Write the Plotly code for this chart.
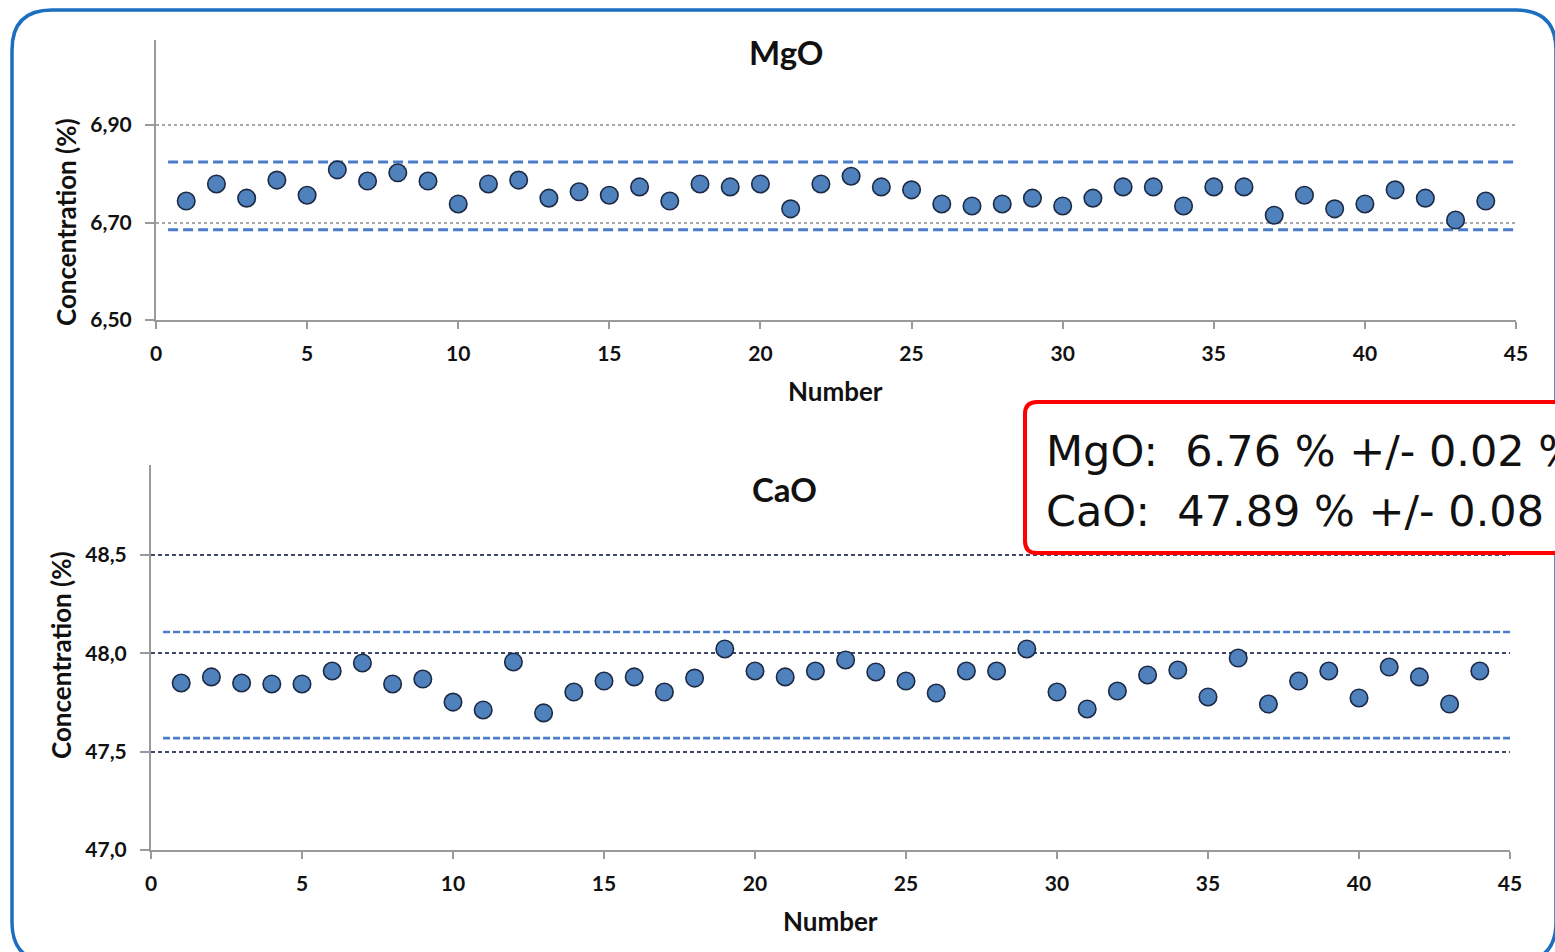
import plotly.graph_objects as go

W, H = 1555, 952

# ---------------- data ----------------
numbers = list(range(1, 45))
mgo_values = [6.744, 6.779, 6.750, 6.787, 6.756, 6.808, 6.785, 6.802, 6.785, 6.738,
              6.779, 6.787, 6.750, 6.763, 6.756, 6.773, 6.744, 6.779, 6.773, 6.779,
              6.728, 6.779, 6.795, 6.773, 6.767, 6.738, 6.734, 6.738, 6.750, 6.734,
              6.750, 6.773, 6.773, 6.734, 6.773, 6.773, 6.715, 6.756, 6.728, 6.738,
              6.767, 6.750, 6.705, 6.744]
cao_values = [47.849, 47.880, 47.849, 47.844, 47.844, 47.910, 47.951, 47.844, 47.869, 47.752,
              47.712, 47.956, 47.697, 47.803, 47.859, 47.880, 47.803, 47.874, 48.022, 47.910,
              47.880, 47.910, 47.966, 47.905, 47.859, 47.798, 47.910, 47.910, 48.022, 47.803,
              47.717, 47.808, 47.890, 47.915, 47.778, 47.976, 47.742, 47.859, 47.910, 47.773,
              47.930, 47.880, 47.742, 47.910]
limit_x = [0.4, 45]
mgo_upper = [6.824, 6.824]
mgo_lower = [6.685, 6.685]
cao_upper = [48.108, 48.108]
cao_lower = [47.569, 47.569]
mgo_ticks = [6.50, 6.70, 6.90]
cao_ticks = [47.0, 47.5, 48.0, 48.5]
summary_lines = ["MgO:  6.76 % +/- 0.02 %", "CaO:  47.89 % +/- 0.08 %"]


def px(x):
    return x / W


def py(y):
    return 1 - y / H


fig = go.Figure()

marker = dict(size=17.5, color="#4f81bd", line=dict(color="#1c2a45", width=1.6))

# MgO
fig.add_trace(go.Scatter(x=limit_x, y=mgo_upper, mode="lines", xaxis="x", yaxis="y",
                         line=dict(color="#4a7cc9", width=3, dash="10px,5px"), hoverinfo="skip"))
fig.add_trace(go.Scatter(x=limit_x, y=mgo_lower, mode="lines", xaxis="x", yaxis="y",
                         line=dict(color="#4a7cc9", width=3, dash="10px,5px"), hoverinfo="skip"))
fig.add_trace(go.Scatter(x=numbers, y=mgo_values, mode="markers", xaxis="x", yaxis="y", marker=marker))

# CaO
fig.add_trace(go.Scatter(x=limit_x, y=cao_upper, mode="lines", xaxis="x2", yaxis="y2",
                         line=dict(color="#4a7cc9", width=2.6, dash="7px,3px"), hoverinfo="skip"))
fig.add_trace(go.Scatter(x=limit_x, y=cao_lower, mode="lines", xaxis="x2", yaxis="y2",
                         line=dict(color="#4a7cc9", width=2.6, dash="7px,3px"), hoverinfo="skip"))
fig.add_trace(go.Scatter(x=numbers, y=cao_values, mode="markers", xaxis="x2", yaxis="y2", marker=marker))

tickfont = dict(family="Lato", size=21, color="#111111", weight="bold")
titlefont = dict(family="Lato", size=26, color="#111111")

common_x = dict(range=[0, 45], tick0=0, dtick=5, showgrid=False, zeroline=False,
                showline=True, linecolor="#9a9a9a", linewidth=2,
                ticks="outside", ticklen=7, tickwidth=2, tickcolor="#9a9a9a",
                tickfont=tickfont, ticklabelstandoff=7, automargin=False)
common_y = dict(zeroline=False, showline=True, linecolor="#9a9a9a", linewidth=2,
                ticks="outside", ticklen=9, tickwidth=2, tickcolor="#9a9a9a",
                tickfont=tickfont, ticklabelstandoff=9, showgrid=True, gridwidth=1.5,
                automargin=False)

fig.update_layout(
    width=W, height=H,
    margin=dict(l=0, r=0, t=0, b=0, autoexpand=False),
    paper_bgcolor="white", plot_bgcolor="rgba(0,0,0,0)",
    showlegend=False,
    separators=", ",
    xaxis=dict(domain=[px(156), px(1516)], anchor="y", **common_x),
    yaxis=dict(domain=[py(320), py(40)], anchor="x",
               range=[6.50, 6.50 + 280 / 487.5], tickvals=mgo_ticks, tickformat=".2f",
               gridcolor="#a8a8a8", griddash="3px,3px", **common_y),
    xaxis2=dict(domain=[px(151), px(1510)], anchor="y2", **common_x),
    yaxis2=dict(domain=[py(850), py(465)], anchor="x2",
                range=[47.0, 47.0 + 385 / 196.7], tickvals=cao_ticks, tickformat=".1f",
                gridcolor="#3e4a68", griddash="4px,3px", **common_y),
)

annotations = [
    dict(text="<b>MgO</b>", x=px(786), y=py(52), font=dict(family="Lato", size=33, color="#111")),
    dict(text="<b>CaO</b>", x=px(784), y=py(489), font=dict(family="Lato", size=33, color="#111")),
    dict(text="<b>Number</b>", x=px(835), y=py(391), font=titlefont),
    dict(text="<b>Number</b>", x=px(830), y=py(921), font=titlefont),
    dict(text="<b>Concentration (%)</b>", x=px(66), y=py(222), textangle=-90, font=titlefont),
    dict(text="<b>Concentration (%)</b>", x=px(61), y=py(655), textangle=-90, font=titlefont),
]
for a in annotations:
    a.update(xref="paper", yref="paper", showarrow=False, xanchor="center", yanchor="middle")

for i, line in enumerate(summary_lines):
    annotations.append(dict(text=line, xref="paper", yref="paper", x=px(1044), y=py(451 + 60 * i),
                            xanchor="left", yanchor="middle", showarrow=False,
                            font=dict(family="DejaVu Sans", size=43, color="#111111")))
fig.update_layout(annotations=annotations)


def rounded_rect(x0, y0, x1, y1, r):
    pts = [
        f"M {px(x0 + r)},{py(y0)}",
        f"L {px(x1 - r)},{py(y0)}",
        f"Q {px(x1)},{py(y0)} {px(x1)},{py(y0 + r)}",
        f"L {px(x1)},{py(y1 - r)}",
        f"Q {px(x1)},{py(y1)} {px(x1 - r)},{py(y1)}",
        f"L {px(x0 + r)},{py(y1)}",
        f"Q {px(x0)},{py(y1)} {px(x0)},{py(y1 - r)}",
        f"L {px(x0)},{py(y0 + r)}",
        f"Q {px(x0)},{py(y0)} {px(x0 + r)},{py(y0)}",
        "Z",
    ]
    return " ".join(pts)


fig.update_layout(shapes=[
    dict(type="path", xref="paper", yref="paper", path=rounded_rect(12, 10, 1556, 962, 40),
         line=dict(color="#1a6fc1", width=3.5), fillcolor="rgba(0,0,0,0)", layer="above"),
    dict(type="path", xref="paper", yref="paper", path=rounded_rect(1025, 402, 1600, 553, 12),
         line=dict(color="#ff0000", width=4), fillcolor="white", layer="above"),
])

fig.write_html("out.html", config=dict(displayModeBar=False),
               post_script="document.body.style.margin='0';document.body.style.overflow='hidden';")
